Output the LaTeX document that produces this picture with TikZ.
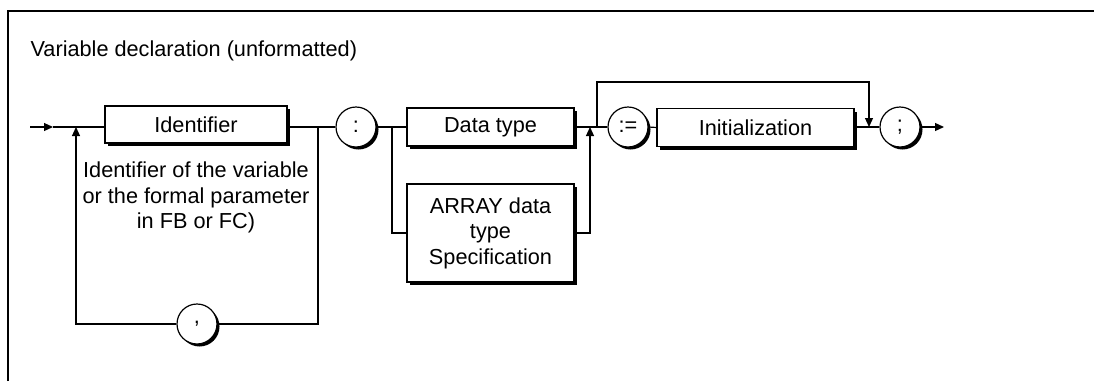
\documentclass[tikz,border=0pt]{standalone}
\usepackage{fontspec}
\setmainfont{Liberation Sans}
\usetikzlibrary{arrows.meta,shadows}
\begin{document}
\begin{tikzpicture}[x=1pt,y=-1pt,
  line width=1.2pt, line join=miter,
  every node/.style={font=\fontsize{21.7}{25.5}\selectfont},
  term/.style={draw, fill=white, rectangle, inner sep=0pt, align=center,
    drop shadow={shadow xshift=3pt, shadow yshift=-3pt, fill=black, opacity=1}},
  lit/.style={draw, fill=white, circle, minimum size=40pt, inner sep=0pt,
    drop shadow={shadow xshift=2.5pt, shadow yshift=-2.5pt, fill=black, opacity=1}},
  arr/.style={-{Triangle[length=9pt,width=8pt]}},
]
\useasboundingbox (0,0) rectangle (1094,381);
\draw[line width=2pt] (8,381) -- (8,11) -- (1094,11);

\node[anchor=base west, inner sep=0pt] (title) at (30,56) {Variable declaration (unformatted)};

\node[term, minimum width=182pt, minimum height=37pt] (ident) at (196,124.5) {Identifier};
\node[lit] (colon) at (356,127) {:};
\node[term, minimum width=167pt, minimum height=38pt] (dtype) at (490.5,127) {Data type};
\node[term, minimum width=167pt, minimum height=98pt] (array) at (490.5,233) {ARRAY data\\type\\Specification};
\node[lit] (assign) at (628,127) {:=};
\node[term, minimum width=197pt, minimum height=38pt] (init) at (755.5,127.5) {Initialization};
\node[lit] (semi) at (900,127) {;};
\node[lit] (comma) at (197,324) {,};
\node[anchor=north, align=center, inner sep=0pt] (note) at (196,161.5) {Identifier of the variable\\or the formal parameter\\in FB or FC)};

\coordinate (start) at (30,127);
\coordinate (entrytip) at (53,127);
\coordinate (jloop) at (76,127);
\coordinate (jcomma) at (318,127);
\coordinate (jarr) at (392,127);
\coordinate (jmerge) at (590,127);
\coordinate (jskip) at (597,127);
\coordinate (skiptop) at (869,82);
\coordinate (jsemi) at (869,127);
\coordinate (exit) at (944,127);

\draw[arr] (start) -- (entrytip);
\draw (entrytip) -- (ident.west |- entrytip);
\draw (ident.east |- jcomma) -- (colon.west);
\draw (jcomma) |- (comma.east);
\draw[arr] (comma.west) -| (jloop);
\draw (colon.east) -- (dtype.west);
\draw (jarr) |- (array.west);
\draw[arr] (array.east) -| (jmerge);
\draw (dtype.east) -- (assign.west);
\draw[arr] (jskip) |- (skiptop) -- (jsemi);
\draw (assign.east) -- (init.west);
\draw (init.east |- jsemi) -- (semi.west);
\draw[arr] (semi.east) -- (exit);
\end{tikzpicture}
\end{document}
